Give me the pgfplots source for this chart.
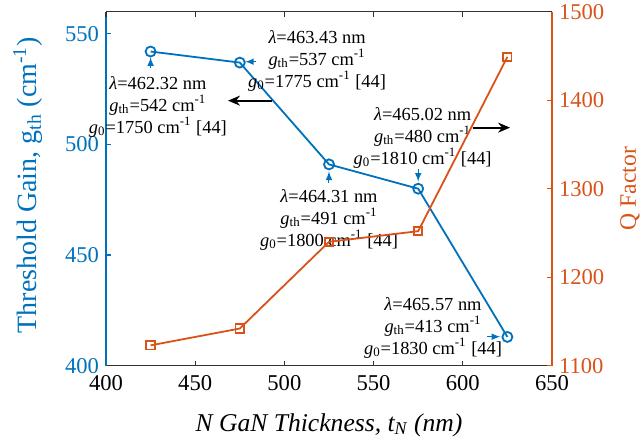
\documentclass[border=0pt]{standalone}
\usepackage{pgfplots}
\pgfplotsset{compat=1.18}
\usetikzlibrary{arrows.meta}
\usepackage{fontspec}
\setmainfont{Liberation Serif}
\definecolor{mblue}{rgb}{0,0.447,0.741}
\definecolor{morange}{rgb}{0.85,0.325,0.098}
\begin{document}
\begin{tikzpicture}
\pgfplotsset{
  every axis/.append style={
    scale only axis, width=223pt, height=177pt,
    xmin=400, xmax=650,
    /pgf/number format/assume math mode=true,
    /pgf/number format/1000 sep={},
    tick label style={font=\fontsize{11.3}{13}\selectfont},
    major tick length=2.5pt, tick align=inside,
    clip=false,
  },
}
\begin{axis}[
  at={(0,0)}, anchor=south west,
  ymin=400, ymax=560,
  axis y line*=left, axis x line*=bottom,
  xtick={400,450,...,650}, ytick={400,450,500,550},
  y axis line style={draw=mblue, line width=0.6pt, -},
  x axis line style={draw=black!80, line width=0.6pt, -},
  xticklabel style={yshift=-1.5pt},
  yticklabel style={text=mblue},
  ytick style={draw=mblue, line width=0.6pt},
  xtick style={draw=black!80, line width=0.6pt},
  xlabel={\textit{N GaN Thickness, t\textsubscript{N} (nm)}},
  xlabel style={at={(axis description cs:0.5,-0.168)}, anchor=center, font=\fontsize{12.8}{14}\selectfont},
  ylabel={Threshold Gain, g\textsubscript{th} (cm\textsuperscript{-1})},
  ylabel style={at={(axis description cs:-0.175,0.51)}, anchor=center, font=\fontsize{14}{16}\selectfont, text=mblue},
]
\addplot[mblue, line width=0.9pt, mark=o, mark size=2.5pt, mark options={solid, line width=0.9pt}]
  coordinates {(425,542) (475,537) (525,491) (575,480) (625,413)};

\begin{scope}[font=\fontsize{9.2}{11}\selectfont]
\node[align=center] at (axis cs:429.1,517.1) {\textit{λ}=462.32 nm\\\textit{g}\textsubscript{th}=542 cm\textsuperscript{-1}\\\textit{g}\textsubscript{0}=1750 cm\textsuperscript{-1} [44]};
\node[align=center] at (axis cs:518.3,537.9) {\textit{λ}=463.43 nm\\\textit{g}\textsubscript{th}=537 cm\textsuperscript{-1}\\\textit{g}\textsubscript{0}=1775 cm\textsuperscript{-1} [44]};
\node[align=center] at (axis cs:577.5,503.1) {\textit{λ}=465.02 nm\\\textit{g}\textsubscript{th}=480 cm\textsuperscript{-1}\\\textit{g}\textsubscript{0}=1810 cm\textsuperscript{-1} [44]};
\node[align=center] at (axis cs:525,466) {\textit{λ}=464.31 nm\\\textit{g}\textsubscript{th}=491 cm\textsuperscript{-1}\\\textit{g}\textsubscript{0}=1800 cm\textsuperscript{-1} [44]};
\node[align=center] at (axis cs:583.3,417.2) {\textit{λ}=465.57 nm\\\textit{g}\textsubscript{th}=413 cm\textsuperscript{-1}\\\textit{g}\textsubscript{0}=1830 cm\textsuperscript{-1} [44]};
\end{scope}

% small blue pointer arrows
\draw[-latex, mblue, line width=0.5pt] (axis cs:425,534.5) -- (axis cs:425,539.4);
\draw[-latex, mblue, line width=0.5pt] (axis cs:484,537.4) -- (axis cs:478,537.4);
\draw[-latex, mblue, line width=0.5pt] (axis cs:575,489) -- (axis cs:575,483.2);
\draw[-latex, mblue, line width=0.5pt] (axis cs:525,482.5) -- (axis cs:525,487.8);
\draw[-latex, mblue, line width=0.5pt] (axis cs:613.5,413.1) -- (axis cs:621,413.1);
% black direction arrows
\draw[-{Stealth[length=6pt,width=5pt]}, black, line width=0.9pt] (axis cs:493,519.8) -- (axis cs:468.4,519.8);
\draw[-{Stealth[length=6pt,width=5pt]}, black, line width=0.9pt] (axis cs:605.7,507.6) -- (axis cs:626.5,507.6);
\end{axis}

\begin{axis}[
  at={(0,0)}, anchor=south west,
  ymin=1100, ymax=1500,
  axis y line*=right, axis x line*=top,
  xtick={400,450,...,650}, xticklabels={},
  x axis line style={draw=black!80, line width=0.6pt, -},
  xtick style={draw=black!80, line width=0.6pt},
  ytick={1100,1200,...,1500},
  y axis line style={draw=morange, line width=0.6pt, -},
  yticklabel style={text=morange},
  ytick style={draw=morange, line width=0.6pt},
  ylabel={Q Factor},
  ylabel style={at={(axis description cs:1.175,0.5)}, anchor=center, font=\fontsize{11.8}{13}\selectfont, text=morange},
]
\addplot[morange, line width=0.9pt, mark=square, mark size=2.1pt, mark options={solid, line width=0.9pt}]
  coordinates {(425,1123) (475,1142) (525,1240) (575,1252) (625,1449)};
\end{axis}
\pgfresetboundingbox
\path (-53pt,-40pt) rectangle (269pt,182.85pt);
\end{tikzpicture}
\end{document}
